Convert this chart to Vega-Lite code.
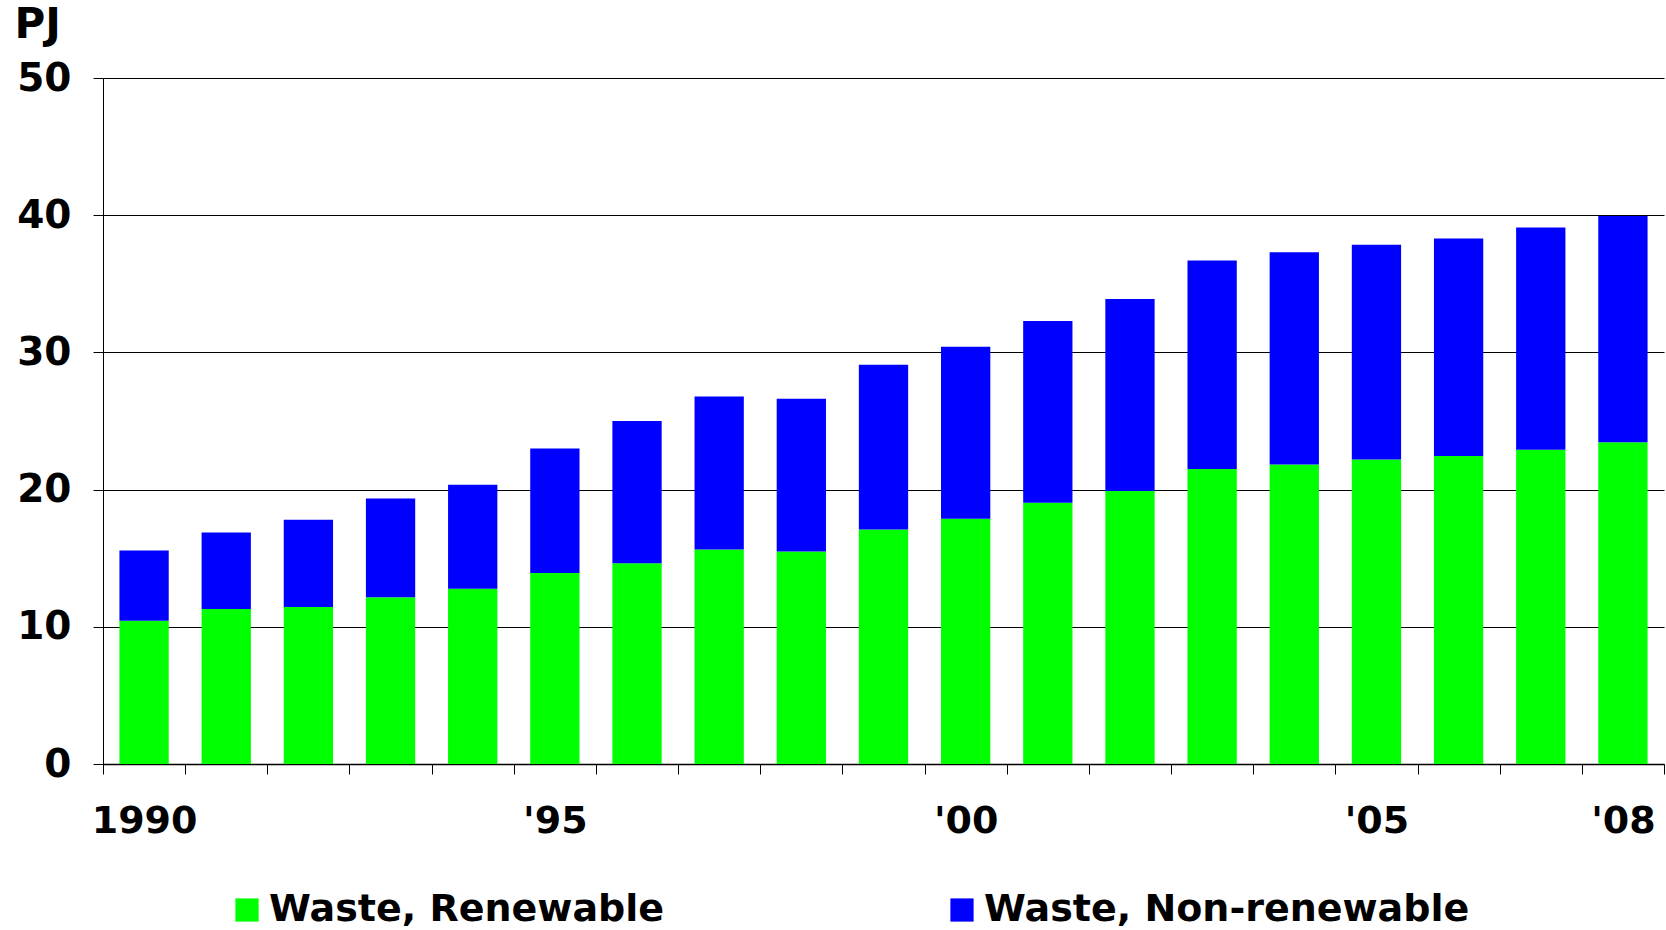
{
  "$schema": "https://vega.github.io/schema/vega-lite/v6.json",
  "autosize": "none",
  "width": 1561,
  "height": 686,
  "padding": {"left": 103, "top": 78, "right": 2, "bottom": 166},
  "background": "white",
  "data": {
    "values": [
      {"year": "1990", "series": "Waste, Renewable", "value": 10.45},
      {"year": "1990", "series": "Waste, Non-renewable", "value": 5.11},
      {"year": "1991", "series": "Waste, Renewable", "value": 11.3},
      {"year": "1991", "series": "Waste, Non-renewable", "value": 5.57},
      {"year": "1992", "series": "Waste, Renewable", "value": 11.45},
      {"year": "1992", "series": "Waste, Non-renewable", "value": 6.35},
      {"year": "1993", "series": "Waste, Renewable", "value": 12.15},
      {"year": "1993", "series": "Waste, Non-renewable", "value": 7.2},
      {"year": "1994", "series": "Waste, Renewable", "value": 12.77},
      {"year": "1994", "series": "Waste, Non-renewable", "value": 7.59},
      {"year": "1995", "series": "Waste, Renewable", "value": 13.93},
      {"year": "1995", "series": "Waste, Non-renewable", "value": 9.06},
      {"year": "1996", "series": "Waste, Renewable", "value": 14.63},
      {"year": "1996", "series": "Waste, Non-renewable", "value": 10.37},
      {"year": "1997", "series": "Waste, Renewable", "value": 15.63},
      {"year": "1997", "series": "Waste, Non-renewable", "value": 11.15},
      {"year": "1998", "series": "Waste, Renewable", "value": 15.48},
      {"year": "1998", "series": "Waste, Non-renewable", "value": 11.15},
      {"year": "1999", "series": "Waste, Renewable", "value": 17.1},
      {"year": "1999", "series": "Waste, Non-renewable", "value": 12.0},
      {"year": "2000", "series": "Waste, Renewable", "value": 17.88},
      {"year": "2000", "series": "Waste, Non-renewable", "value": 12.54},
      {"year": "2001", "series": "Waste, Renewable", "value": 19.04},
      {"year": "2001", "series": "Waste, Non-renewable", "value": 13.24},
      {"year": "2002", "series": "Waste, Renewable", "value": 19.89},
      {"year": "2002", "series": "Waste, Non-renewable", "value": 14.01},
      {"year": "2003", "series": "Waste, Renewable", "value": 21.5},
      {"year": "2003", "series": "Waste, Non-renewable", "value": 15.2},
      {"year": "2004", "series": "Waste, Renewable", "value": 21.83},
      {"year": "2004", "series": "Waste, Non-renewable", "value": 15.47},
      {"year": "2005", "series": "Waste, Renewable", "value": 22.2},
      {"year": "2005", "series": "Waste, Non-renewable", "value": 15.65},
      {"year": "2006", "series": "Waste, Renewable", "value": 22.45},
      {"year": "2006", "series": "Waste, Non-renewable", "value": 15.85},
      {"year": "2007", "series": "Waste, Renewable", "value": 22.9},
      {"year": "2007", "series": "Waste, Non-renewable", "value": 16.2},
      {"year": "2008", "series": "Waste, Renewable", "value": 23.45},
      {"year": "2008", "series": "Waste, Non-renewable", "value": 16.49}
    ]
  },
  "mark": {"type": "bar", "width": {"band": 0.6}},
  "encoding": {
    "x": {
      "field": "year",
      "type": "ordinal",
      "scale": {"paddingInner": 0, "paddingOuter": 0},
      "axis": {
        "title": null,
        "labelAngle": 0,
        "labelFont": "DejaVu Sans",
        "labelFontWeight": "bold",
        "labelFontSize": 38,
        "labelColor": "black",
        "labelPadding": 28,
        "labelOverlap": false,
        "labelExpr": "datum.value === '1990' ? '1990' : (indexof(['1995','2000','2005','2008'], datum.value) >= 0 ? \"'\" + slice(datum.value, 2) : '')",
        "tickBand": "extent",
        "tickSize": 10,
        "tickColor": "black",
        "tickWidth": 1,
        "domainColor": "black",
        "domainWidth": 1.5,
        "grid": false
      }
    },
    "y": {
      "field": "value",
      "type": "quantitative",
      "stack": "zero",
      "scale": {"domain": [0, 50], "nice": false},
      "axis": {
        "values": [0, 10, 20, 30, 40, 50],
        "title": "PJ",
        "titleAngle": 0,
        "titleAlign": "left",
        "titleBaseline": "middle",
        "titleX": -89,
        "titleY": -54,
        "titleFont": "DejaVu Sans",
        "titleFontWeight": "bold",
        "titleFontSize": 42,
        "titleColor": "black",
        "labelFont": "DejaVu Sans",
        "labelFontWeight": "bold",
        "labelFontSize": 39,
        "labelColor": "black",
        "labelPadding": 22,
        "tickSize": 10,
        "tickColor": "black",
        "domainColor": "black",
        "grid": true,
        "gridColor": "black",
        "gridWidth": 1
      }
    },
    "color": {
      "field": "series",
      "type": "nominal",
      "scale": {
        "domain": ["Waste, Renewable", "Waste, Non-renewable"],
        "range": ["#00FF00", "#0000FF"]
      },
      "legend": {
        "title": null,
        "orient": "none",
        "direction": "horizontal",
        "legendX": 125,
        "legendY": 813,
        "symbolType": "square",
        "symbolSize": 540,
        "symbolStrokeWidth": 0,
        "symbolOpacity": 1,
        "labelFont": "DejaVu Sans",
        "labelFontWeight": "bold",
        "labelFontSize": 38,
        "labelColor": "black",
        "labelLimit": 800,
        "labelOffset": 3,
        "columnPadding": 278
      }
    },
    "order": {"field": "series", "sort": "descending"}
  },
  "config": {
    "view": {"stroke": null}
  }
}
